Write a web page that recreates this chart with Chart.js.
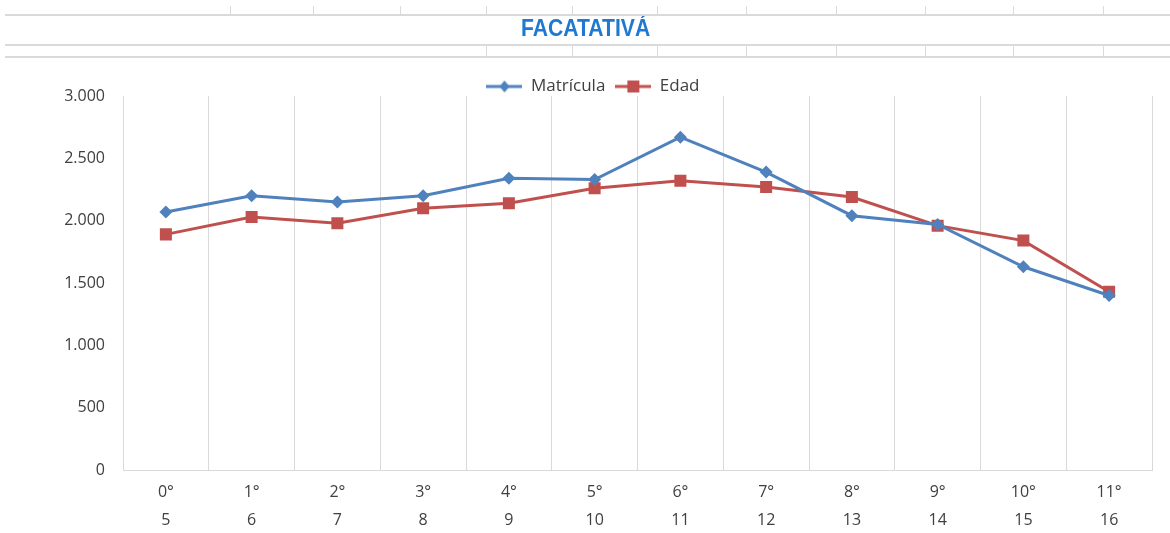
<!DOCTYPE html>
<html>
<head>
<meta charset="utf-8">
<script src="https://cdn.jsdelivr.net/npm/chart.js@4/dist/chart.umd.min.js"></script>
<style>
  body { margin: 0; background: #fff; }
  #wrap { position: relative; width: 1170px; height: 533px; overflow: hidden; }
  #grafico { position: absolute; left: 0; top: 0; }
  .hline { position: absolute; left: 5px; right: 0; height: 2px; background: #dadada; }
  .vline { position: absolute; width: 1px; background: #dadada; }
  #titulo {
    position: absolute; left: 0; width: 1170px; top: 15px; text-align: center;
    font-family: "Liberation Sans", sans-serif;
    font-weight: bold; font-size: 23px; color: #2079d0;
    transform: scaleX(0.92); transform-origin: 592px 0;
  }
</style>
</head>
<body>
<div id="wrap">
  <canvas id="grafico" width="1170" height="533"></canvas>
  <div id="titulo">FACATATIVÁ</div>
</div>
<script>
// Datos del gráfico
const grados = ['0°', '1°', '2°', '3°', '4°', '5°', '6°', '7°', '8°', '9°', '10°', '11°'];
const edades = ['5', '6', '7', '8', '9', '10', '11', '12', '13', '14', '15', '16'];
const matricula = [2070, 2200, 2150, 2200, 2340, 2330, 2670, 2390, 2040, 1970, 1630, 1400];
const edad = [1890, 2030, 1980, 2100, 2140, 2260, 2320, 2270, 2190, 1960, 1840, 1430];
const yTicks = [0, 500, 1000, 1500, 2000, 2500, 3000];

const azul = '#4f81bd';
const rojo = '#c0504d';

// Cuadrícula de la hoja de cálculo (encabezado)
let wrap = document.getElementById('wrap');
let agregarLinea = (clase, estilo) => {
  let d = document.createElement('div');
  d.className = clase;
  Object.assign(d.style, estilo);
  wrap.appendChild(d);
};
[14, 44, 56].forEach(y => agregarLinea('hline', {top: y + 'px'}));
[230, 313, 400, 486, 572, 657, 746, 836, 925, 1013, 1103].forEach(x =>
  agregarLinea('vline', {left: x + 'px', top: '6px', height: '8px'}));
[486, 572, 657, 746, 836, 925, 1013, 1103].forEach(x =>
  agregarLinea('vline', {left: x + 'px', top: '46px', height: '10px'}));

// Icono de leyenda: línea con marcador
let iconoLeyenda = (color, forma) => {
  let c = document.createElement('canvas');
  c.width = 36; c.height = 14;
  let ctx = c.getContext('2d');
  ctx.strokeStyle = color;
  ctx.fillStyle = color;
  ctx.lineWidth = 3;
  ctx.beginPath(); ctx.moveTo(0, 7); ctx.lineTo(36, 7); ctx.stroke();
  ctx.beginPath();
  if (forma === 'diamante') {
    ctx.moveTo(18, 1); ctx.lineTo(23, 7); ctx.lineTo(18, 13); ctx.lineTo(13, 7);
  } else {
    ctx.rect(12, 1, 12, 12);
  }
  ctx.fill();
  return c;
};
const iconoMatricula = iconoLeyenda(azul, 'diamante');
const iconoEdad = iconoLeyenda(rojo, 'cuadrado');

let formatoMiles = v => String(v).replace(/\B(?=(\d{3})+(?!\d))/g, '.');

// Ajuste de la altura de la leyenda
const ajusteLeyenda = {
  id: 'ajusteLeyenda',
  beforeLayout(chart) {
    if (chart.legend && !chart.legend._ajustada) {
      const fitOriginal = chart.legend.fit;
      chart.legend.fit = function () {
        fitOriginal.call(this);
        this.height -= 9;
      };
      chart.legend._ajustada = true;
    }
  }
};

const fuente = {family: '"Open Sans", sans-serif', size: 16};

new Chart(document.getElementById('grafico'), {
  type: 'line',
  data: {
    labels: grados.map((g, i) => [g, edades[i]]),
    datasets: [
      {
        label: 'Matrícula',
        data: matricula,
        borderColor: azul,
        backgroundColor: azul,
        borderWidth: 3,
        pointStyle: 'rectRot',
        pointRadius: 6.5,
        pointHoverRadius: 6.5,
        pointBorderWidth: 0,
        tension: 0
      },
      {
        label: 'Edad',
        data: edad,
        borderColor: rojo,
        backgroundColor: rojo,
        borderWidth: 3,
        pointStyle: 'rect',
        pointRadius: 8.5,
        pointHoverRadius: 8.5,
        pointBorderWidth: 0,
        tension: 0
      }
    ]
  },
  options: {
    responsive: false,
    animation: false,
    layout: {padding: {top: 68, right: 18, left: 34, bottom: -9}},
    plugins: {
      legend: {
        position: 'top',
        labels: {
          usePointStyle: true,
          pointStyleWidth: 36,
          padding: 10,
          color: '#404040',
          font: {family: '"Open Sans", sans-serif', size: 17},
          generateLabels: chart => chart.data.datasets.map((ds, i) => ({
            text: ds.label,
            pointStyle: i === 0 ? iconoMatricula : iconoEdad,
            fillStyle: ds.borderColor,
            strokeStyle: ds.borderColor,
            lineWidth: 0,
            fontColor: '#404040',
            datasetIndex: i
          }))
        }
      },
      tooltip: {enabled: false}
    },
    scales: {
      x: {
        offset: true,
        grid: {display: true, offset: true, color: '#d9d9d9', drawTicks: false},
        border: {display: true, color: '#d9d9d9'},
        ticks: {
          color: '#404040',
          font: {family: '"Open Sans", sans-serif', size: 16, lineHeight: 1.75},
          padding: 8,
          maxRotation: 0,
          autoSkip: false
        }
      },
      y: {
        min: 0,
        max: 3000,
        afterBuildTicks: scale => { scale.ticks = yTicks.map(v => ({value: v})); },
        afterFit: scale => { scale.width = 89; },
        grid: {display: false, drawTicks: false},
        border: {display: true, color: '#d9d9d9'},
        ticks: {
          color: '#404040',
          font: fuente,
          padding: 18,
          callback: v => formatoMiles(v)
        }
      }
    }
  },
  plugins: [ajusteLeyenda]
});
</script>
</body>
</html>
